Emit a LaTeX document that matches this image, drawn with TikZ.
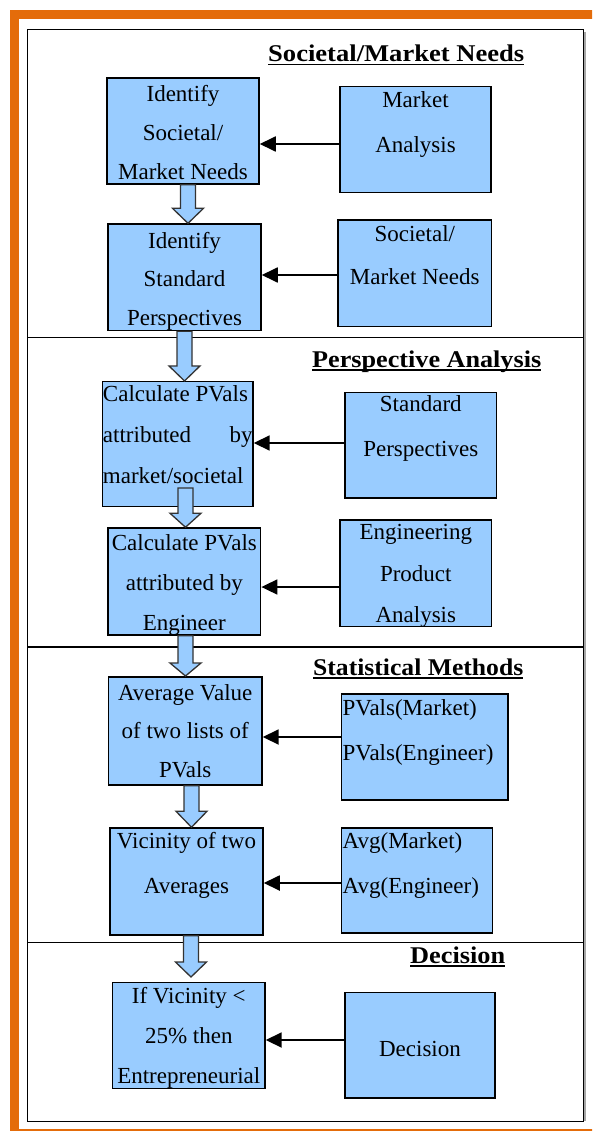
\documentclass[tikz,border=0pt]{standalone}
\usepackage{fontspec}
\setmainfont{Liberation Serif}
\newfontfamily\bodyfont{Liberation Serif}
\usepackage{graphicx}
\usetikzlibrary{arrows.meta,calc}
\definecolor{boxblue}{RGB}{153,204,255}
\definecolor{frameorange}{RGB}{228,108,10}
\newsavebox\tulbox
\newcommand{\tul}[1]{\sbox\tulbox{#1}\rlap{\rule[-3.5pt]{\wd\tulbox}{1.4pt}}\usebox\tulbox}
% width, height, baselineskip, first-baseline offset, content
\newcommand{\bxt}[5]{\parbox[c][#2pt][t]{#1pt}{\bodyfont\fontsize{23}{#3pt}\selectfont\leavevmode\rule{0pt}{#4pt}\ignorespaces#5}}
\newcommand{\barr}[3]{\draw[barrow] let \p1=(#1), \p2=(#2) in
  (\x1-7.5pt,\y1) -- (\x1-7.5pt,\y2+#3) -- (\x1-15.5pt,\y2+#3) -- (\x1,\y2)
  -- (\x1+15.5pt,\y2+#3) -- (\x1+7.5pt,\y2+#3) -- (\x1+7.5pt,\y1) -- cycle;}
\tikzset{
  fbox/.style={draw=black, fill=boxblue, line width=1.5pt, inner ysep=0pt, inner xsep=1pt},
  harrow/.style={draw=black, line width=1.8pt, -{Triangle[length=16pt,width=15pt]}},
  barrow/.style={fill=boxblue, draw=black!80, line width=1.3pt, line join=miter},
  ttl/.style={inner sep=0pt, anchor=base west, font=\bodyfont\fontsize{24}{28}\selectfont\bfseries},
  secline/.style={draw=black, line width=1.3pt}
}
\begin{document}
\begin{tikzpicture}[x=1pt,y=-1pt]
\useasboundingbox (0,0) rectangle (592,1131);
\fill[white] (0,0) rectangle (592,1131);
\clip (0,0) rectangle (592,1131);
% orange frame
\draw[frameorange, line width=9pt] (14.5,14.5) rectangle (610,1133.5);
% inner frame
\draw[gray!70, line width=2pt] (585.3,32) -- (585.3,1121);
\node[draw=black, line width=1.2pt, minimum width=556pt, minimum height=1091.7pt, inner sep=0pt, anchor=north west] (frame) at (27,29) {};
% section lines
\draw[secline] (frame.west |- 0,337.7) -- (frame.east |- 0,337.7);
\draw[secline, line width=2pt] (frame.west |- 0,647) -- (frame.east |- 0,647);
\draw[secline] (frame.west |- 0,942.7) -- (frame.east |- 0,942.7);
% titles
\node[ttl] (T1) at (268,62) {\resizebox{256pt}{\height}{\tul{Societal/Market Needs}}};
\node[ttl] (T2) at (312,367) {\resizebox{229pt}{\height}{\tul{Perspective Analysis}}};
\node[ttl] (T3) at (313,675) {\resizebox{210pt}{\height}{\tul{Statistical Methods}}};
\node[ttl] (T4) at (410,963) {\resizebox{95pt}{\height}{\tul{Decision}}};
% left boxes
\node[fbox] (L1) at (183,131) {\bxt{150}{106}{39}{24}{\centering Identify\\Societal/\\Market Needs}};
\node[fbox] (L2) at (184.5,277.3) {\bxt{151}{106.5}{38.5}{24}{\centering Identify\\Standard\\Perspectives}};
\node[fbox, inner xsep=0.3pt] (L3) at (177.8,444.2) {\bxt{149.7}{125}{41}{20}{\raggedright Calculate PVals\\\makebox[\linewidth][s]{attributed\hfill by}\\market/societal}};
\node[fbox] (L4) at (184.3,581.5) {\bxt{150.7}{107}{40}{22}{\centering Calculate PVals\\attributed by\\Engineer}};
\node[fbox] (L5) at (185.2,731) {\bxt{151.5}{108}{38.5}{23}{\centering Average Value\\of two lists of\\PVals}};
\node[fbox] (L6) at (186.5,881.5) {\bxt{151}{107}{45}{20}{\centering Vicinity of two\\Averages}};
\node[fbox] (L7) at (188.8,1035.3) {\bxt{150.3}{106}{40}{21}{\centering If Vicinity <\\25\% then\\Entrepreneurial}};
% right boxes
\node[fbox] (R1) at (415.5,139.3) {\bxt{149}{106}{45}{21}{\centering Market\\Analysis}};
\node[fbox] (R2) at (414.8,273.3) {\bxt{151.7}{106.7}{43}{22}{\centering Societal/\\Market Needs}};
\node[fbox] (R3) at (420.8,445.3) {\bxt{149.7}{105.3}{45}{19}{\centering Standard\\Perspectives}};
\node[fbox] (R4) at (415.8,573.3) {\bxt{149.7}{106.7}{41.5}{20}{\centering Engineering\\Product\\Analysis}};
\node[fbox] (R5) at (424.8,747) {\bxt{164.3}{106}{45.5}{21}{\raggedright PVals(Market)\\PVals(Engineer)}};
\node[fbox] (R6) at (417.2,880.5) {\bxt{149}{105}{45}{20}{\raggedright Avg(Market)\\Avg(Engineer)}};
\node[fbox] (R7) at (420,1045.2) {\bxt{148}{105.7}{40}{64}{\centering Decision}};
% horizontal arrows
\draw[harrow] (R1.west |- 0,144) -- (L1.east |- 0,144);
\draw[harrow] (R2.west |- 0,275) -- (L2.east |- 0,275);
\draw[harrow] (R3.west |- 0,443) -- (L3.east |- 0,443);
\draw[harrow] (R4.west |- 0,587) -- (L4.east |- 0,587);
\draw[harrow] (R5.west |- 0,737) -- (L5.east |- 0,737);
\draw[harrow] (R6.west |- 0,883) -- (L6.east |- 0,883);
\draw[harrow] (R7.west |- 0,1040) -- (L7.east |- 0,1040);
% block arrows
\coordinate (b1s) at (188,0 |- L1.south);
\coordinate (b1t) at (188,0 |- L2.north);
\coordinate (b2s) at (184.5,0 |- L2.south);
\coordinate (b2t) at (184.5,0 |- L3.north);
\coordinate (b3s) at (185.5,488);
\coordinate (b3t) at (185.5,0 |- L4.north);
\coordinate (b4s) at (185.5,0 |- L4.south);
\coordinate (b4t) at (185.5,676);
\coordinate (b5s) at (191.5,0 |- L5.south);
\coordinate (b5t) at (191.5,0 |- L6.north);
\coordinate (b6s) at (191,0 |- L6.south);
\coordinate (b6t) at (191,977);
\barr{b1s}{b1t}{15pt}
\barr{b2s}{b2t}{15pt}
\barr{b3s}{b3t}{14pt}
\barr{b4s}{b4t}{13pt}
\barr{b5s}{b5t}{16pt}
\barr{b6s}{b6t}{15pt}
\end{tikzpicture}
\end{document}
